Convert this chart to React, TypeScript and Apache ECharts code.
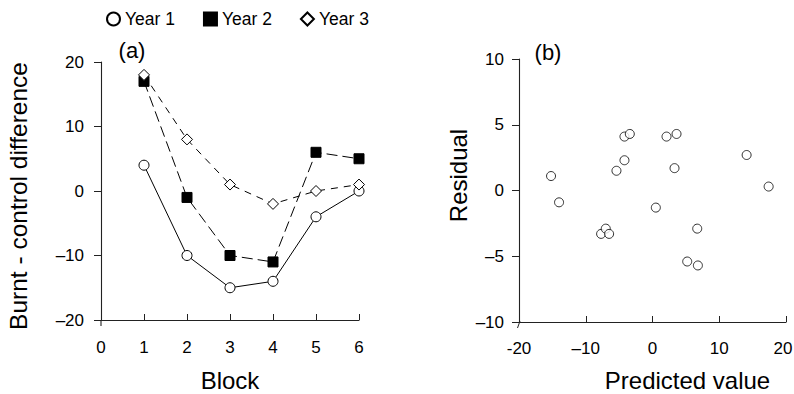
import React, { useEffect, useRef } from "react";
import * as echarts from "echarts";

// ---------- data ----------
const blocks = [1, 2, 3, 4, 5, 6];
const year1 = [4, -10, -15, -14, -4, 0];
const year2 = [17, -1, -10, -11, 6, 5];
const year3 = [18, 8, 1, -2, 0, 1];

const predicted = [-15.2, -14.0, -7.7, -7.0, -6.5, -5.4, -4.2, -4.2, -3.4, 0.5, 2.1, 3.6, 3.3, 5.2, 6.8, 6.7, 14.1, 17.4];
const residual = [1.1, -0.9, -3.3, -2.9, -3.3, 1.5, 2.3, 4.1, 4.3, -1.3, 4.1, 4.3, 1.7, -5.4, -5.7, -2.9, 2.7, 0.3];

const blockTicks = ["0", "1", "2", "3", "4", "5", "6"];
const diffTicks: Record<string, string> = { "-20": "–20", "-10": "–10", "0": "0", "10": "10", "20": "20" };
const predTicks: Record<string, string> = { "-20": "-20", "-10": "–10", "0": "0", "10": "10", "20": "{last|20}" };
const resTicks: Record<string, string> = { "-10": "–10", "-5": "–5", "0": "0", "5": "5", "10": "10" };

const FONT = '"Liberation Sans", Arial, Helvetica, sans-serif';

export default function App() {
  const ref = useRef<HTMLDivElement>(null);

  useEffect(() => {
    if (!ref.current) return;
    const chart = echarts.init(ref.current, undefined, { renderer: "svg" });

    const mkLine = () => ({ show: true, onZero: false, lineStyle: { color: "#222", width: 1.1 } });
    const tickStyle = { color: "#222", width: 1 };
    const labelBase = { color: "#000", fontSize: 17, fontFamily: FONT };
    const xNameStyle = { color: "#000", fontSize: 24, fontFamily: FONT, lineHeight: 18 };
    const yNameStyle = { color: "#000", fontSize: 24, fontFamily: FONT, lineHeight: 26 };

    const circleStyle = { color: "#fff", borderColor: "#000", borderWidth: 1 };

    const option: any = {
      animation: false,
      backgroundColor: "#fff",
      textStyle: { fontFamily: FONT },
      legend: {
        left: 106,
        top: 10,
        padding: 0,
        itemWidth: 13,
        itemHeight: 13,
        itemGap: 28,
        textStyle: { color: "#000", fontSize: 17.5, fontFamily: FONT },
        data: [
          { name: "Year 1", icon: "circle" },
          { name: "Year 2", icon: "rect" },
          { name: "Year 3", icon: "diamond" },
        ],
      },
      grid: [
        { left: 101, top: 62, width: 258, height: 258, containLabel: false, outerBoundsMode: "none" },
        { left: 519, top: 59, width: 267, height: 263, containLabel: false, outerBoundsMode: "none" },
      ],
      xAxis: [
        {
          gridIndex: 0,
          type: "value",
          position: "bottom",
          min: 0,
          max: 6,
          interval: 1,
          axisLine: mkLine(),
          axisTick: { show: true, inside: true, length: 6, lineStyle: tickStyle },
          axisLabel: { ...labelBase, margin: 19, formatter: (v: number) => blockTicks[v] },
          splitLine: { show: false },
          name: "Block",
          nameLocation: "middle",
          nameGap: 51,
          nameTextStyle: xNameStyle,
        },
        {
          gridIndex: 1,
          type: "value",
          position: "bottom",
          min: -20,
          max: 20,
          interval: 10,
          axisLine: mkLine(),
          axisTick: { show: true, inside: true, length: 6, lineStyle: tickStyle },
          axisLabel: {
            ...labelBase,
            margin: 18,
            formatter: (v: number) => predTicks[String(v)],
            rich: { last: { fontSize: 17, fontFamily: FONT, color: "#000", padding: [0, 6, 0, 0] } },
          },
          splitLine: { show: false },
          name: "Predicted value",
          nameLocation: "middle",
          nameGap: 49,
          nameTextStyle: { ...xNameStyle, padding: [0, 0, 0, 70] },
        },
      ],
      yAxis: [
        {
          gridIndex: 0,
          type: "value",
          min: -20,
          max: 20,
          interval: 10,
          axisLine: mkLine(),
          axisTick: { show: true, inside: false, length: 7, lineStyle: tickStyle },
          axisLabel: { ...labelBase, margin: 17, formatter: (v: number) => diffTicks[String(v)] },
          splitLine: { show: false },
          name: "Burnt - control difference",
          nameLocation: "middle",
          nameGap: 70,
          nameRotate: 90,
          nameTextStyle: { ...yNameStyle, fontSize: 24.5, padding: [0, 10, 0, 0] },
        },
        {
          gridIndex: 1,
          type: "value",
          min: -10,
          max: 10,
          interval: 5,
          axisLine: mkLine(),
          axisTick: { show: true, inside: false, length: 7, lineStyle: tickStyle },
          axisLabel: { ...labelBase, margin: 15, formatter: (v: number) => resTicks[String(v)] },
          splitLine: { show: false },
          name: "Residual",
          nameLocation: "middle",
          nameGap: 41,
          nameRotate: 90,
          nameTextStyle: { ...yNameStyle, padding: [0, 0, 0, 30] },
        },
      ],
      series: [
        {
          name: "Year 1",
          type: "line",
          xAxisIndex: 0,
          yAxisIndex: 0,
          data: blocks.map((b, i) => [b, year1[i]]),
          symbol: "circle",
          symbolSize: 10,
          itemStyle: circleStyle,
          lineStyle: { color: "#000", width: 1, type: "solid" },
          z: 3,
        },
        {
          name: "Year 2",
          type: "line",
          xAxisIndex: 0,
          yAxisIndex: 0,
          data: blocks.map((b, i) => [b, year2[i]]),
          symbol: "rect",
          symbolSize: 10,
          itemStyle: { color: "#000", borderColor: "#000", borderWidth: 1 },
          lineStyle: { color: "#000", width: 1, type: [11, 5] },
          z: 2,
        },
        {
          name: "Year 3",
          type: "line",
          xAxisIndex: 0,
          yAxisIndex: 0,
          data: blocks.map((b, i) => [b, year3[i]]),
          symbol: "diamond",
          symbolSize: 11,
          itemStyle: circleStyle,
          lineStyle: { color: "#000", width: 1, type: [7, 6] },
          z: 4,
        },
        {
          name: "Residuals",
          type: "scatter",
          xAxisIndex: 1,
          yAxisIndex: 1,
          data: predicted.map((p, i) => [p, residual[i]]),
          symbol: "circle",
          symbolSize: 9,
          itemStyle: circleStyle,
        },
      ],
      graphic: [
        {
          type: "text",
          x: 132,
          y: 50,
          style: { text: "(a)", fontSize: 22, fontFamily: FONT, fill: "#000", textAlign: "center", textVerticalAlign: "middle" },
        },
        {
          type: "text",
          x: 548,
          y: 52,
          style: { text: "(b)", fontSize: 22, fontFamily: FONT, fill: "#000", textAlign: "center", textVerticalAlign: "middle" },
        },
        {
          type: "line",
          shape: { x1: 101, y1: 320, x2: 101, y2: 326 },
          style: { stroke: "#222", lineWidth: 1.1 },
        },
        {
          type: "line",
          shape: { x1: 520, y1: 321, x2: 517.5, y2: 328 },
          style: { stroke: "#222", lineWidth: 1 },
        },
      ],
    };

    chart.setOption(option);
    return () => chart.dispose();
  }, []);

  return (
    <div
      ref={ref}
      style={{ position: "absolute", left: 0, top: 0, width: 794, height: 394, background: "#fff" }}
    />
  );
}
